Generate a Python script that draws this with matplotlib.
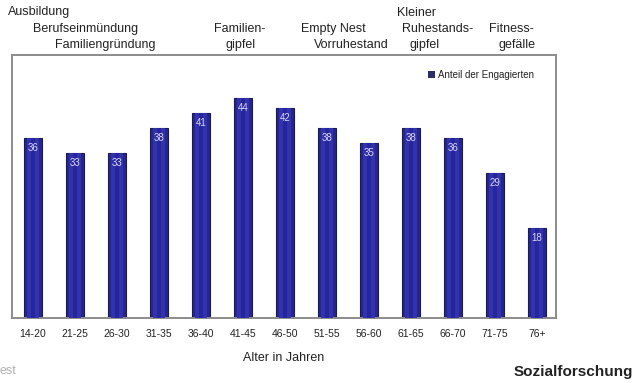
import matplotlib
matplotlib.use("Agg")
import matplotlib.pyplot as plt
import numpy as np

age_groups = ["14-20", "21-25", "26-30", "31-35", "36-40", "41-45", "46-50",
              "51-55", "56-60", "61-65", "66-70", "71-75", "76+"]
share_engaged = [36, 33, 33, 38, 41, 44, 42, 38, 35, 38, 36, 29, 18]

# life-phase captions above the plot: (text, x in data units, y in figure px from top, ha)
phase_labels = [
    ("Ausbildung", -0.6, 12, "left"),
    ("Berufseinmündung", 0.0, 29, "left"),
    ("Familiengründung", 0.52, 45, "left"),
    ("Familien-", 4.93, 29, "center"),
    ("gipfel", 4.93, 45, "center"),
    ("Empty Nest", 7.14, 29, "center"),
    ("Vorruhestand", 7.57, 45, "center"),
    ("Kleiner", 9.12, 13, "center"),
    ("Ruhestands-", 9.62, 29, "center"),
    ("gipfel", 9.31, 45, "center"),
    ("Fitness-", 11.38, 29, "center"),
    ("gefälle", 11.52, 45, "center"),
]

plt.rcParams["font.family"] = ["Liberation Sans", "DejaVu Sans"]

W, H = 636, 383
fig = plt.figure(figsize=(W / 100, H / 100), dpi=100)
ax = fig.add_axes([12 / W, 1 - 318 / H, (556 - 12) / W, (318 - 55) / H])

x = np.arange(len(age_groups))
ax.bar(x, share_engaged, width=0.43, color="#26268c", edgecolor="#1a1a55", linewidth=0.8, zorder=2)
ax.bar(x, share_engaged, width=0.27, color="#3232ae", linewidth=0, zorder=3)
ax.bar(x, share_engaged, width=0.08, color="#25259c", linewidth=0, zorder=4)

for xi, v in zip(x, share_engaged):
    ax.text(xi, v - 2.0, str(v), ha="center", va="center", color="#d8d8f0",
            fontsize=7, zorder=5)

ax.set_xlim(-0.5, 12.45)
ax.set_ylim(0, 52.6)
ax.set_yticks([])
ax.set_xticks(x)
ax.set_xticklabels(age_groups, fontsize=7.5, color="#222222")
ax.tick_params(axis="x", length=0, pad=8)
for s in ax.spines.values():
    s.set_color("#8c8c8c")
    s.set_linewidth(1.4)

ax.set_xlabel("Alter in Jahren", fontsize=9, color="#222222", labelpad=9)

# legend entry
ax.bar([np.nan], [np.nan], color="#2d2d6e", label="Anteil der Engagierten")
leg = ax.legend(loc="upper right", bbox_to_anchor=(0.971, 0.965), frameon=False,
                fontsize=7, handlelength=0.7, handleheight=0.7, handletextpad=0.4,
                borderaxespad=0.2)
for t in leg.get_texts():
    t.set_color("#222222")

trans = matplotlib.transforms.blended_transform_factory(ax.transData, fig.transFigure)
for text, xd, ypx, ha in phase_labels:
    ax.text(xd, 1 - ypx / H, text, transform=trans, ha=ha, va="center",
            fontsize=9, color="#222222", clip_on=False)

fig.text(0.0, 1 - 371 / H, "est", fontsize=9, color="#b0b0b0", ha="left", va="center")
fig.text(633 / W, 1 - 372 / H, "Sozialforschung", fontsize=11, fontweight="bold",
         color="#222222", ha="right", va="center")

fig.savefig("out.png", dpi=100)
